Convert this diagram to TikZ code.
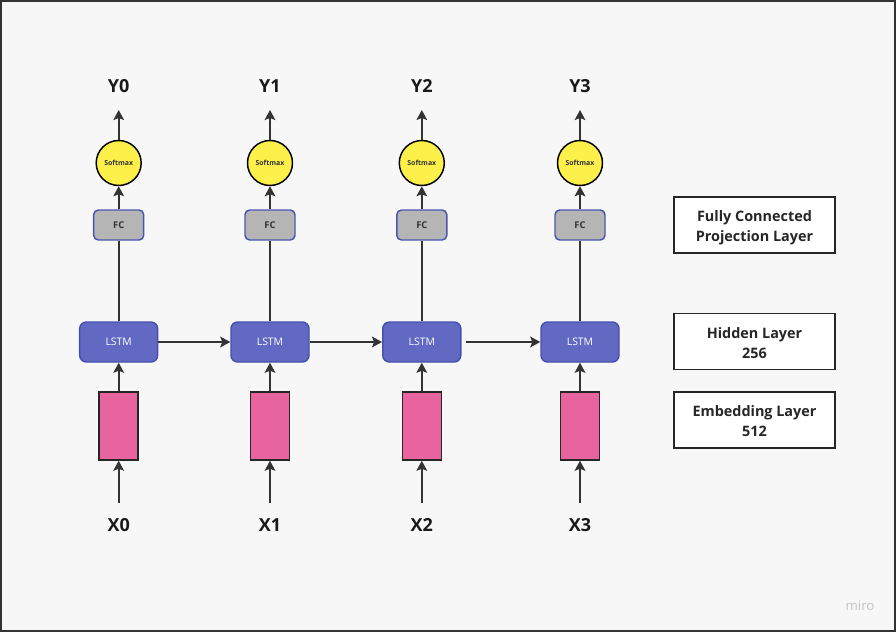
\documentclass[tikz,border=0pt]{standalone}
\usepackage{fontspec}
\setmainfont{Open Sans}
\usetikzlibrary{arrows.meta}
\definecolor{bg}{HTML}{F7F7F7}
\definecolor{frame}{HTML}{333333}
\definecolor{lstmfill}{HTML}{6169C2}
\definecolor{lstmdraw}{HTML}{4750B0}
\definecolor{fcfill}{HTML}{B5B5B5}
\definecolor{fcdraw}{HTML}{4A55B0}
\definecolor{smfill}{HTML}{FDF04A}
\definecolor{pinkfill}{HTML}{E8649F}
\definecolor{arrowc}{HTML}{333333}
\definecolor{miroc}{HTML}{C4C4C4}
\tikzset{
  conn/.style={draw=arrowc, line width=1.4pt, -{Stealth[length=7.5pt,width=8pt,inset=1.5pt]}},
  lstmbox/.style={draw=lstmdraw, fill=lstmfill, line width=1.1pt, rounded corners=5pt,
    minimum width=58.5pt, minimum height=30pt, inner sep=0pt, text=white,
    font=\fontsize{7.8}{9}\selectfont},
  fcbox/.style={draw=fcdraw, fill=fcfill, line width=1.1pt, rounded corners=3.5pt,
    minimum width=37.5pt, minimum height=22.5pt, inner sep=0pt, text=black!80,
    font=\bfseries\fontsize{7}{8}\selectfont},
  smnode/.style={circle, draw=black, fill=smfill, line width=1.1pt,
    minimum size=33.75pt, inner sep=0pt, text=black!80,
    font=\bfseries\fontsize{5.2}{6}\selectfont},
  embbox/.style={draw=black!85, fill=pinkfill, line width=1.1pt,
    minimum width=29.25pt, minimum height=51pt, inner sep=0pt},
  lbl/.style={font=\bfseries\fontsize{13.5}{16}\selectfont, text=black!90, inner sep=0pt},
  legbox/.style={draw=black!85, fill=white, line width=1.1pt,
    minimum width=120.75pt, minimum height=42pt, inner sep=0pt},
  legtext/.style={align=center, inner sep=0pt,
    font=\bfseries\fontsize{10.8}{15}\selectfont, text=black!85}
}
\begin{document}
\begin{tikzpicture}[x=0.75pt,y=-0.75pt]
\useasboundingbox (0,0) rectangle (896,632);
\fill[bg] (0,0) rectangle (896,632);
\draw[frame, line width=1.5pt] (1,1) rectangle (895,631);

\foreach \i/\cx in {0/118.7,1/270,2/421.8,3/580}{
  \node[lbl] (y\i) at (\cx,86) {Y\i};
  \coordinate (yt\i) at (\cx,110);
  \node[smnode] (sm\i) at (\cx,163) {Softmax};
  \node[fcbox] (fc\i) at (\cx,225) {FC};
  \node[lstmbox] (ls\i) at (\cx,342) {LSTM};
  \node[embbox] (em\i) at (\cx,426) {};
  \coordinate (xb\i) at (\cx,503);
  \node[lbl] (x\i) at (\cx,525) {X\i};
  \draw[conn] (sm\i.north) -- (yt\i);
  \draw[conn] (fc\i.north) -- (sm\i.south);
  \draw[conn, -] (ls\i.north) -- (fc\i.south);
  \draw[conn] (em\i.north) -- (ls\i.south);
  \draw[conn] (xb\i) -- (em\i.south);
}
\draw[conn] (ls0.east) -- (ls1.west);
\draw[conn] (ls1.east) -- (ls2.west);
\draw[conn, shorten <=3pt] (ls2.east) -- (ls3.west);

\node[legbox] (lfc) at (754.5,225) {};
\node[legtext] (tfc) at (754.5,228) {Fully Connected\\Projection Layer};
\node[legbox] (lhid) at (754.5,341.5) {};
\node[legtext] (thid) at (754.5,343) {Hidden Layer\\256};
\node[legbox] (lemb) at (754.5,420) {};
\node[legtext] (temb) at (754.5,421.5) {Embedding Layer\\512};

\node[text=miroc, font=\fontsize{10}{11}\selectfont, inner sep=0pt] (miro) at (860,606) {miro};
\end{tikzpicture}
\end{document}
